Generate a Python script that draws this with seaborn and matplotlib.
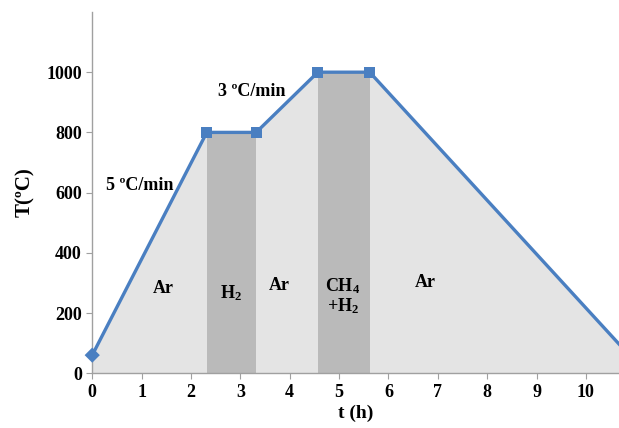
import matplotlib
matplotlib.use('Agg')
import matplotlib.pyplot as plt
import pandas as pd
import seaborn as sns

# temperature program
t_h = [0, 2.32, 3.32, 4.57, 5.62, 11.1]
temp_c = [60, 800, 800, 1000, 1000, 20]
point_marker = ['D', 's', 's', 's', 's', 's']

# gas atmosphere per stage (start, end, label)
gas_start = [0, 2.32, 3.32, 4.57, 5.62]
gas_end = [2.32, 3.32, 4.57, 5.62, 11.1]
gas_label = ['Ar', 'H$_2$', 'Ar', 'CH$_4$\n+H$_2$', 'Ar']
gas_label_t = [1.45, 2.82, 3.78, 5.08, 6.75]
gas_label_T = [283, 265, 293, 255, 300]

# ramp rates
rate_label = ['5 ºC/min', '3 ºC/min']
rate_t = [0.97, 3.24]
rate_T = [622, 937]

sns.set_style('white')
plt.rcParams['font.family'] = ['Liberation Serif', 'DejaVu Serif']
plt.rcParams['font.weight'] = 'bold'
plt.rcParams['mathtext.fontset'] = 'custom'
plt.rcParams['mathtext.rm'] = 'Liberation Serif:bold'
plt.rcParams['mathtext.it'] = 'Liberation Serif:bold'
plt.rcParams['mathtext.bf'] = 'Liberation Serif:bold'
plt.rcParams['mathtext.default'] = 'rm'
plt.rcParams['text.color'] = 'black'
plt.rcParams['axes.labelcolor'] = 'black'
plt.rcParams['xtick.color'] = 'black'
plt.rcParams['ytick.color'] = 'black'

df = pd.DataFrame({'t': t_h, 'T': temp_c, 'm': point_marker})

fig = plt.figure(figsize=(6.19, 4.28), dpi=100)
ax = fig.add_axes([0.149, 0.128, 0.851, 0.844])

# light grey area under the curve
ax.fill_between(df['t'], 0, df['T'], color='#e4e4e4', zorder=1, linewidth=0)

# dark grey bands for the reactive gas stages
for s, e, lab in zip(gas_start, gas_end, gas_label):
    if lab != 'Ar':
        top = df.loc[df['t'] == s, 'T'].iloc[0]
        ax.fill_between([s, e], 0, [top, top], color='#bababa', zorder=2, linewidth=0)

sns.lineplot(data=df, x='t', y='T', color='#4a7fc1', linewidth=2.4, ax=ax, zorder=3, sort=False)
for mk in ['D', 's']:
    sub = df[(df['m'] == mk) & (df['t'] < 10.67)]
    sns.scatterplot(data=sub, x='t', y='T', marker=mk, color='#4a7fc1', s=60,
                    edgecolor='none', ax=ax, zorder=4, clip_on=False)

for lab, x, y in zip(gas_label, gas_label_t, gas_label_T):
    ax.text(x, y, lab, ha='center', va='center', fontsize=13, fontweight='bold',
            linespacing=1.0, zorder=5)
for lab, x, y in zip(rate_label, rate_t, rate_T):
    ax.text(x, y, lab, ha='center', va='center', fontsize=13, fontweight='bold', zorder=5)

ax.set_xlim(0, 10.67)
ax.set_ylim(0, 1200)
ax.set_xticks(range(0, 11))
ax.set_yticks(range(0, 1001, 200))
ax.tick_params(axis='both', labelsize=13, length=4, color='#a0a0a0', direction='out',
               labelcolor='black', left=True, bottom=True)
for lbl in ax.get_xticklabels() + ax.get_yticklabels():
    lbl.set_fontweight('bold')

for side in ['top', 'right']:
    ax.spines[side].set_visible(False)
for side in ['left', 'bottom']:
    ax.spines[side].set_color('#a0a0a0')
    ax.spines[side].set_linewidth(1.0)

ax.set_xlabel('t (h)', fontsize=14, fontweight='bold', labelpad=3)
ax.set_ylabel('T(ºC)', fontsize=15, fontweight='bold', labelpad=8)

fig.savefig('out.png', dpi=100)
